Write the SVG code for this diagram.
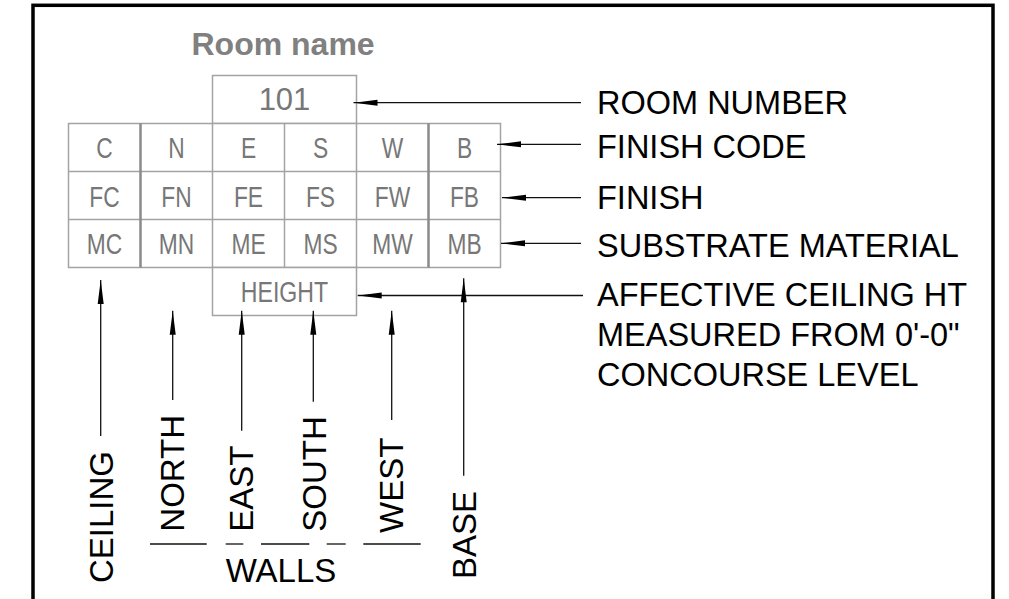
<svg xmlns="http://www.w3.org/2000/svg" width="1009" height="599" viewBox="0 0 1009 599">
<defs>
<style>
.frame{fill:none;stroke:#000;stroke-width:3.5}
.cell{fill:#fff;stroke:#a3a3a3;stroke-width:1.5}
.thick{stroke:#8a8a8a;stroke-width:2.5}
.thin{stroke:#a3a3a3;stroke-width:1.5}
.ct{font-family:"Liberation Sans",Arial,sans-serif;font-size:30px;fill:#777;text-anchor:middle}
.title{font-family:"Liberation Sans",Arial,sans-serif;font-size:32px;font-weight:bold;fill:#808080}
.lbl{font-family:"Liberation Sans",Arial,sans-serif;font-size:32.5px;fill:#000}
.vl{font-family:"Liberation Sans",Arial,sans-serif;font-size:33px;fill:#000}
.ld{fill:none;stroke:#111;stroke-width:1.3;marker-start:url(#ah)}
.ul{stroke:#111;stroke-width:1.3}
</style>
<marker id="ah" markerUnits="userSpaceOnUse" markerWidth="30" markerHeight="10" refX="0" refY="5" orient="auto" viewBox="0 0 30 10">
<path d="M0,5 L24,2 L24,8 Z" fill="#000"/>
</marker>
</defs>
<rect class="frame" x="33" y="5.3" width="960" height="640"/>

<g id="room-name"><text class="title" x="191.5" y="54.5">Room name</text></g>

<g id="room-number">
<rect class="cell" x="212.5" y="75.5" width="144" height="48"/>
<text class="ct" x="284.5" y="110" style="font-size:31px">101</text>
</g>

<g id="finish-grid">
<rect class="cell" x="68.5" y="123.5" width="432" height="144"/>
<line class="thin" x1="68.5" y1="171.5" x2="500.5" y2="171.5"/>
<line class="thin" x1="68.5" y1="219.5" x2="500.5" y2="219.5"/>
<line class="thick" x1="140.5" y1="123.5" x2="140.5" y2="267.5"/>
<line class="thin" x1="212.5" y1="123.5" x2="212.5" y2="267.5"/>
<line class="thin" x1="284.5" y1="123.5" x2="284.5" y2="267.5"/>
<line class="thin" x1="356.5" y1="123.5" x2="356.5" y2="267.5"/>
<line class="thick" x1="428.5" y1="123.5" x2="428.5" y2="267.5"/>
<g class="ct">
<text transform="translate(104.5,158.3) scale(0.76,1)">C</text>
<text transform="translate(176.5,158.3) scale(0.76,1)">N</text>
<text transform="translate(248.5,158.3) scale(0.76,1)">E</text>
<text transform="translate(320.5,158.3) scale(0.76,1)">S</text>
<text transform="translate(392.5,158.3) scale(0.76,1)">W</text>
<text transform="translate(464.5,158.3) scale(0.76,1)">B</text>
<text transform="translate(104.5,206.5) scale(0.76,1)">FC</text>
<text transform="translate(176.5,206.5) scale(0.76,1)">FN</text>
<text transform="translate(248.5,206.5) scale(0.76,1)">FE</text>
<text transform="translate(320.5,206.5) scale(0.76,1)">FS</text>
<text transform="translate(392.5,206.5) scale(0.76,1)">FW</text>
<text transform="translate(464.5,206.5) scale(0.76,1)">FB</text>
<text transform="translate(104.5,254) scale(0.76,1)">MC</text>
<text transform="translate(176.5,254) scale(0.76,1)">MN</text>
<text transform="translate(248.5,254) scale(0.76,1)">ME</text>
<text transform="translate(320.5,254) scale(0.76,1)">MS</text>
<text transform="translate(392.5,254) scale(0.76,1)">MW</text>
<text transform="translate(464.5,254) scale(0.76,1)">MB</text>
</g>
</g>

<g id="height">
<rect class="cell" x="212.5" y="267.5" width="144" height="48"/>
<text class="ct" transform="translate(284.5,301.7) scale(0.77,1)">HEIGHT</text>
</g>

<g id="label-room-number"><text class="lbl" x="597" y="114.3">ROOM NUMBER</text></g>
<g id="label-finish-code"><text class="lbl" x="597" y="157.7">FINISH CODE</text></g>
<g id="label-finish"><text class="lbl" x="597" y="209">FINISH</text></g>
<g id="label-substrate"><text class="lbl" x="597" y="256.7">SUBSTRATE MATERIAL</text></g>
<g id="label-height"><text class="lbl" x="597" y="306">AFFECTIVE CEILING HT<tspan x="597" y="346">MEASURED FROM 0'-0"</tspan><tspan x="597" y="385.5">CONCOURSE LEVEL</tspan></text></g>

<g id="label-ceiling"><text class="vl" transform="translate(113.3,583) rotate(-90)">CEILING</text></g>
<g id="label-north"><text class="vl" transform="translate(184,531.7) rotate(-90)">NORTH</text></g>
<g id="label-east"><text class="vl" transform="translate(252.7,531.7) rotate(-90)">EAST</text></g>
<g id="label-south"><text class="vl" transform="translate(325.7,531.7) rotate(-90)">SOUTH</text></g>
<g id="label-west"><text class="vl" transform="translate(403.3,533) rotate(-90)">WEST</text></g>
<g id="label-base"><text class="vl" transform="translate(476,579) rotate(-90)">BASE</text></g>
<g id="label-walls">
<text class="vl" x="225.7" y="581.7">WALLS</text>
<line class="ul" x1="150" y1="544" x2="206.7" y2="544"/>
<line class="ul" x1="225.7" y1="544" x2="243.3" y2="544"/>
<line class="ul" x1="261" y1="544" x2="309.3" y2="544"/>
<line class="ul" x1="326.7" y1="544" x2="345.7" y2="544"/>
<line class="ul" x1="363.3" y1="544" x2="420.7" y2="544"/>
</g>

<g id="connectors">
<path class="ld" d="M353.5,102.7 H581"/>
<path class="ld" d="M497,144.3 H581"/>
<path class="ld" d="M502,197.7 H581"/>
<path class="ld" d="M501,243.3 H581"/>
<path class="ld" d="M357.7,295.5 H583"/>
<path class="ld" d="M100.7,280 V436"/>
<path class="ld" d="M172.7,310.7 V400"/>
<path class="ld" d="M241.7,310.7 V430.7"/>
<path class="ld" d="M313.3,310.7 V401.7"/>
<path class="ld" d="M391.7,310.7 V420"/>
<path class="ld" d="M463.7,278.3 V475.7"/>
</g>
</svg>
